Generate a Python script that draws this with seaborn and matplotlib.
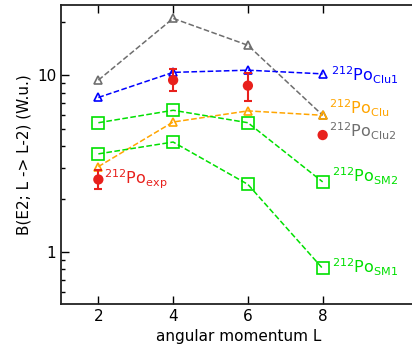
import numpy as np
import pandas as pd
import matplotlib
matplotlib.use('Agg')
import matplotlib.pyplot as plt
import matplotlib.ticker as mticker
import seaborn as sns

# angular momentum values
L = [2, 4, 6, 8]

# B(E2) values (W.u.)
clu2 = [9.4, 21.0, 14.8, 5.95]
clu1 = [7.5, 10.4, 10.7, 10.2]
clu = [3.05, 5.45, 6.3, 5.95]
sm2 = [5.4, 6.35, 5.4, 2.5]
sm1 = [3.6, 4.2, 2.42, 0.81]

exp_val = [2.58, 9.4, 8.75, 4.6]
exp_lo = [0.31, 1.25, 1.55, 0.0]
exp_hi = [0.32, 1.4, 1.5, 0.0]

series = [
    ('Clu2', clu2, '#6e6e6e', '^', (3, 1.6)),
    ('Clu1', clu1, '#0000ff', '^', (3, 1.6)),
    ('Clu', clu, '#ffa500', '^', (3, 1.6)),
    ('SM2', sm2, '#00e000', 's', (2, 1.6)),
    ('SM1', sm1, '#00e000', 's', (2, 1.6)),
]

labels = [
    ('Clu1', 8.22, 10.0, '#0000ff'),
    ('Clu', 8.18, 6.5, '#ffa500'),
    ('Clu2', 8.18, 4.85, '#6e6e6e'),
    ('SM2', 8.25, 2.7, '#00e000'),
    ('SM1', 8.25, 0.82, '#00e000'),
]

sns.set_style('ticks')
plt.rcParams['font.family'] = ['DejaVu Sans']
plt.rcParams['mathtext.fontset'] = 'dejavusans'
plt.rcParams['text.color'] = 'black'
plt.rcParams['axes.labelcolor'] = 'black'
plt.rcParams['xtick.color'] = 'black'
plt.rcParams['ytick.color'] = 'black'

fig = plt.figure(figsize=(4.12, 3.56), dpi=100)
ax = fig.add_axes([0.148, 0.146, 0.862, 0.84])

for name, vals, col, mk, dash in series:
    df = pd.DataFrame({'L': L, 'B': vals})
    sns.lineplot(data=df, x='L', y='B', ax=ax, color=col, marker=mk,
                 markersize=6 if mk == '^' else 8, markerfacecolor='none',
                 markeredgecolor=col, markeredgewidth=1.2,
                 linewidth=1.1, dashes=dash, linestyle='--')

# experimental points
ax.errorbar(L, exp_val, yerr=[exp_lo, exp_hi], fmt='none', ecolor='#e8201c',
            elinewidth=1.5, capsize=3, capthick=1.5)
sns.scatterplot(x=L, y=exp_val, ax=ax, color='#e8201c', s=55,
                edgecolor='none', zorder=5)

for name, x, y, col in labels:
    ax.text(x, y, r'$^{212}\mathrm{Po}_{\mathrm{' + name + '}}$', color=col,
            fontsize=11.5, va='center', ha='left')
ax.text(2.15, 2.6, r'$^{212}\mathrm{Po}_{\mathrm{exp}}$', color='#e8201c',
        fontsize=11.5, va='center', ha='left')

ax.set_yscale('log')
ax.set_xlim(1, 10.5)
ax.set_ylim(0.51, 25)
ax.set_xticks([2, 4, 6, 8])
ax.yaxis.set_major_locator(mticker.FixedLocator([1, 10]))
ax.yaxis.set_major_formatter(mticker.FixedFormatter(['1', '10']))
ax.yaxis.set_minor_locator(mticker.LogLocator(base=10, subs=np.arange(2, 10)))
ax.yaxis.set_minor_formatter(mticker.NullFormatter())
ax.tick_params(which='both', direction='in', top=True, right=False,
               labelsize=11, width=1)
ax.tick_params(which='major', length=6)
ax.tick_params(which='minor', length=3)
for s in ax.spines.values():
    s.set_linewidth(1.3)
    s.set_color('#222222')
ax.spines['right'].set_visible(False)

ax.set_xlabel('angular momentum L', fontsize=11)
ax.set_ylabel('B(E2; L -> L-2) (W.u.)', fontsize=11)

fig.savefig('out.png', dpi=100)
